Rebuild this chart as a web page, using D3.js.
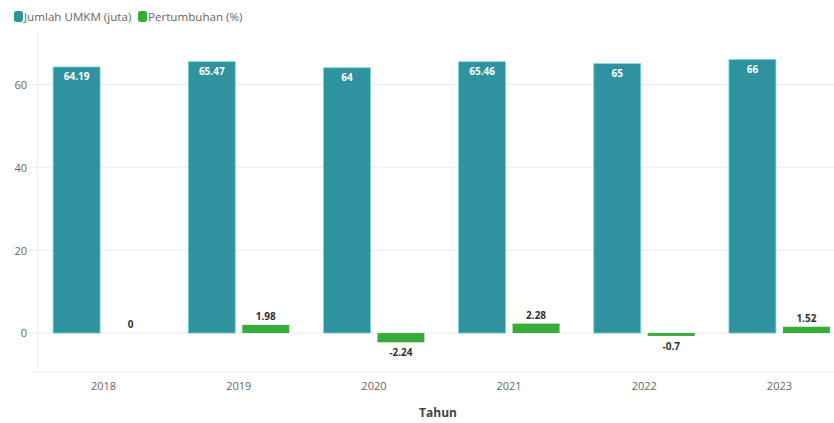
<!DOCTYPE html>
<html><head><meta charset="utf-8">
<script src="https://cdn.jsdelivr.net/npm/d3@7"></script>
<style>
body{margin:0;background:#fff;}
text{font-family:"Open Sans","Noto Sans",sans-serif;}
</style></head>
<body>
<svg id="c" width="834" height="423"></svg>
<script>
const years = ["2018","2019","2020","2021","2022","2023"];
const seriesNames = ["Jumlah UMKM (juta)","Pertumbuhan (%)"];
const umkm = [64.19, 65.47, 64, 65.46, 65, 66];
const growth = [0, 1.98, -2.24, 2.28, -0.7, 1.52];
const yTicks = [0, 20, 40, 60];
const colors = ["#2e939f", "#38ac3a"];
const strokes = ["#6fd6e2", "#38ac3a"];

const svg = d3.select("#c");
const x0 = d3.scaleBand().domain(years).range([36, 847]).padding(0);
const x1 = d3.scaleBand().domain(seriesNames).range([0, x0.bandwidth()]).paddingInner(0.13).paddingOuter(0.317);
const y = d3.scaleLinear().domain([-9.4, 66]).range([372, 59.5]);

// gridlines
svg.append("g").selectAll("line").data(yTicks).join("line")
  .attr("x1", 30).attr("x2", 834)
  .attr("y1", d => y(d)).attr("y2", d => y(d))
  .attr("stroke", "#ebebeb").attr("stroke-width", 1);
// bottom border
svg.append("line").attr("x1", 30).attr("x2", 834).attr("y1", y(-9.4)).attr("y2", y(-9.4))
  .attr("stroke", "#efefef");
// left axis line
svg.append("line").attr("x1", 37.5).attr("x2", 37.5).attr("y1", 30).attr("y2", y(-9.4))
  .attr("stroke", "#f0f0f0");

// y axis labels
const yAxis = d3.axisLeft(y).tickValues(yTicks).tickSize(0).tickPadding(0).tickFormat(d3.format("d"));
const ya = svg.append("g").attr("transform", "translate(27,0)").call(yAxis);
ya.select(".domain").remove();
ya.selectAll("text").attr("fill", "#666").style("font-size", "11px").attr("dy", "0.35em");

// x axis labels
const xAxis = d3.axisBottom(x0).tickSize(0).tickPadding(0);
const xa = svg.append("g").attr("transform", "translate(0,382)").call(xAxis);
xa.select(".domain").remove();
xa.selectAll("text").attr("fill", "#666").style("font-size", "11px").attr("dy", "0.71em");

svg.append("text").attr("x", 438).attr("y", 417).attr("text-anchor", "middle")
  .attr("fill", "#444").style("font-size", "12px").style("font-weight", "bold").text("Tahun");

// bars
const data = years.map((yr, i) => ({yr, vals: [umkm[i], growth[i]]}));
const g = svg.append("g").selectAll("g").data(data).join("g")
  .attr("transform", d => `translate(${x0(d.yr)},0)`);

g.selectAll("rect").data(d => d.vals.map((v, k) => ({v, k}))).join("rect")
  .attr("x", d => x1(seriesNames[d.k]))
  .attr("width", x1.bandwidth())
  .attr("y", d => y(Math.max(0, d.v)))
  .attr("height", d => Math.abs(y(d.v) - y(0)))
  .attr("fill", d => colors[d.k])
  .attr("stroke", d => d.v === 0 ? "none" : strokes[d.k])
  .attr("stroke-width", d => d.k === 0 ? 0.8 : 0);

// labels
g.selectAll("text.lbl").data(d => d.vals.map((v, k) => ({v, k}))).join("text")
  .attr("class", "lbl")
  .attr("x", d => x1(seriesNames[d.k]) + x1.bandwidth() / 2)
  .attr("y", d => d.k === 0 ? y(d.v) + 13 : (d.v >= 0 ? y(d.v) - 5 : y(d.v) + 14))
  .attr("text-anchor", "middle")
  .attr("fill", d => d.k === 0 ? "#fff" : "#333")
  .style("font-size", "10px").style("font-weight", "bold")
  .text(d => String(d.v));

// legend
const leg = svg.append("g");
const legX = [14, 138];
seriesNames.forEach((n, k) => {
  leg.append("rect").attr("x", legX[k]).attr("y", 11).attr("width", 9).attr("height", 11)
    .attr("rx", 2.5).attr("fill", colors[k]);
  leg.append("text").attr("x", legX[k] + 10).attr("y", 20.5).attr("fill", "#666")
    .style("font-size", "11.6px").text(n);
});
</script>
</body></html>
